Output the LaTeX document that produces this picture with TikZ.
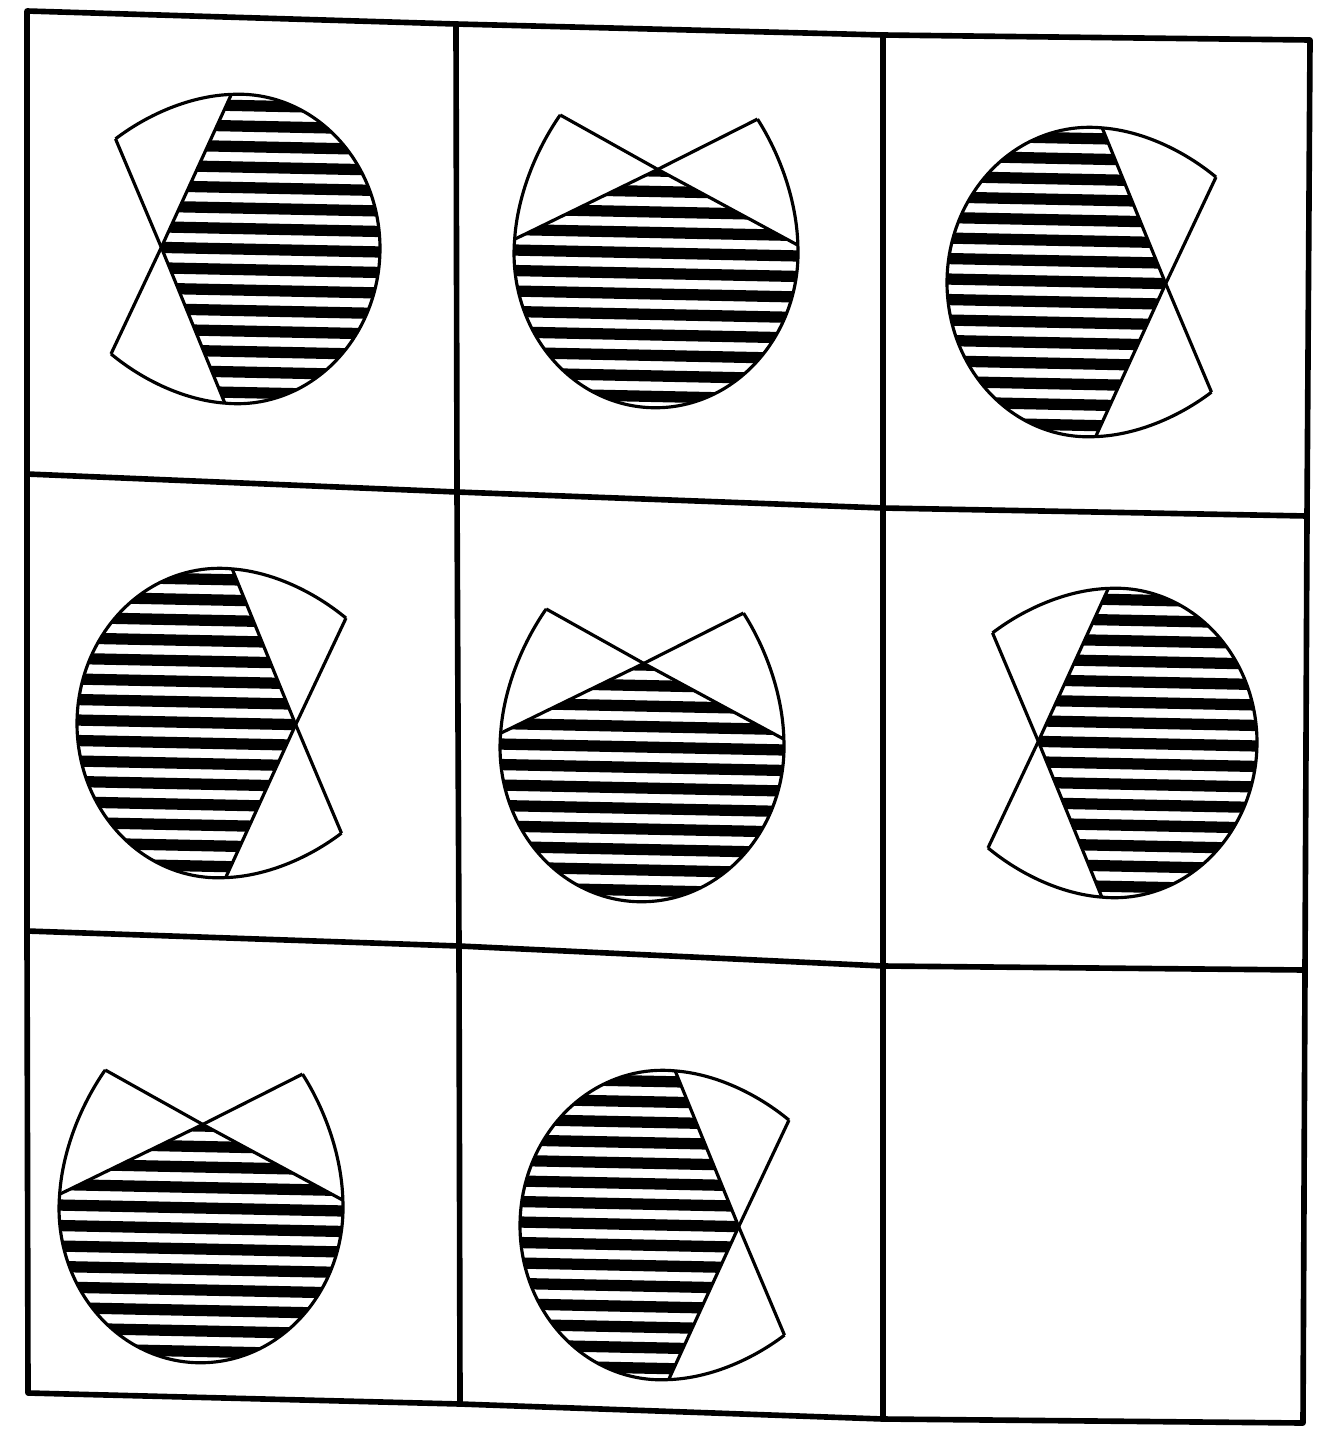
\documentclass[tikz,border=0pt]{standalone}
\begin{document}
\begin{tikzpicture}[x=0.01cm,y=0.01cm,
  outline/.style={line width=0.9pt, line join=round},
  hatchline/.style={line width=3.2pt},
  gridline/.style={line width=1.6pt, line join=round, line cap=round}]
\fill[white] (0,0) rectangle (1326,-1436);
\useasboundingbox (0,0) rectangle (1326,-1436);
% grid corner coordinates (image px, y downward)
\coordinate (g00) at (27,-11);   \coordinate (g01) at (456,-24);  \coordinate (g02) at (883,-35);  \coordinate (g03) at (1310,-40);
\coordinate (g10) at (27,-474);  \coordinate (g11) at (457,-492); \coordinate (g12) at (883,-508); \coordinate (g13) at (1307,-516);
\coordinate (g20) at (27,-931);  \coordinate (g21) at (459,-946); \coordinate (g22) at (883,-966); \coordinate (g23) at (1305,-970);
\coordinate (g30) at (28,-1393); \coordinate (g31) at (460,-1404);\coordinate (g32) at (883,-1419);\coordinate (g33) at (1303,-1423);
\draw[gridline] (g00) -- (g01) -- (g02) -- (g03) -- (g13) -- (g23) -- (g33) -- (g32) -- (g31) -- (g30) -- (g20) -- (g10) -- cycle;
\draw[gridline] (g10) -- (g11) -- (g12) -- (g13);
\draw[gridline] (g20) -- (g21) -- (g22) -- (g23);
\draw[gridline] (g01) -- (g11) -- (g21) -- (g31);
\draw[gridline] (g02) -- (g12) -- (g22) -- (g32);
% figure macro: #1 cx, #2 cy (image px), #3 rotation (0 = notch left), #4 name prefix
\newcommand\notchfig[4]{%
\begin{scope}[shift={(#1,-#2)}, rotate=-1.2, yscale=1.09, rotate=#3]
  \coordinate (#4X) at (-76.7,0);
  \coordinate (#4P1) at (94:142);
  \coordinate (#4P2) at (-94:142);
  \coordinate (#4P3) at (-124.75,98.65);
  \coordinate (#4P4) at (-124.75,-98.65);
  \begin{scope}
    \clip (#4X) -- (#4P1) arc[start angle=94, end angle=-94, radius=142] -- cycle;
    \foreach \k in {-8,...,8} \draw[hatchline, rotate={-(#3)}] (-200,\k*18.8) -- (200,\k*18.8);
  \end{scope}
  \draw[outline] (#4P3) .. controls (-92,122.5) and (-50,139.6) .. (#4P1)
     arc[start angle=94, end angle=-94, radius=142]
     .. controls (-50,-139.6) and (-92,-122.5) .. (#4P4);
  \draw[outline] (#4P1) -- (#4X) -- (#4P4);
  \draw[outline] (#4P2) -- (#4X) -- (#4P3);
\end{scope}}
\notchfig{238}{249}{0}{a}
\notchfig{656}{253}{-90}{b}
\notchfig{1089}{282}{180}{c}
\notchfig{219}{723}{180}{d}
\notchfig{642}{747}{-90}{e}
\notchfig{1115}{743}{0}{f}
\notchfig{201}{1208}{-90}{g}
\notchfig{662}{1225}{180}{h}
\end{tikzpicture}
\end{document}
